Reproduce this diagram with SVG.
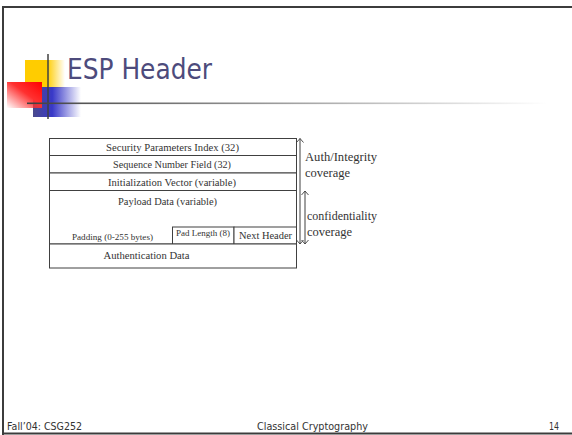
<svg xmlns="http://www.w3.org/2000/svg" width="572" height="435" viewBox="0 0 572 435">
  <style>
    .cell { fill: #ffffff; stroke: #404040; stroke-width: 1; }
    .ft { font-family: "Liberation Serif", "Times New Roman", serif; fill: #333333; }
    .lbl { font-family: "Liberation Serif", "Times New Roman", serif; fill: #333333; font-size: 12.5px; }
    .foot { font-family: "DejaVu Sans", Verdana, sans-serif; font-size: 10px; fill: #333333; }
    .arr { stroke: #404040; stroke-width: 1; fill: none; }
  </style>
  <defs>
    <linearGradient id="gYellow" x1="0" y1="0" x2="1" y2="0">
      <stop offset="0" stop-color="#ffcc00"/>
      <stop offset="0.55" stop-color="#ffcc00"/>
      <stop offset="1" stop-color="#ffcc00" stop-opacity="0"/>
    </linearGradient>
    <linearGradient id="gRed" x1="1" y1="0" x2="0" y2="1">
      <stop offset="0" stop-color="#ff0000"/>
      <stop offset="0.45" stop-color="#ff3030"/>
      <stop offset="1" stop-color="#ff3030" stop-opacity="0"/>
    </linearGradient>
    <linearGradient id="gBlue" x1="0" y1="0" x2="1" y2="0">
      <stop offset="0" stop-color="#4a4a8c"/>
      <stop offset="0.4" stop-color="#3838c8"/>
      <stop offset="1" stop-color="#3838c8" stop-opacity="0"/>
    </linearGradient>
    <linearGradient id="gRule" x1="0" y1="0" x2="1" y2="0">
      <stop offset="0" stop-color="#404040"/>
      <stop offset="0.5" stop-color="#a0a0a0"/>
      <stop offset="1" stop-color="#ffffff"/>
    </linearGradient>
    <!-- open V arrowhead, drawn pointing along +x -->
    <marker id="head" viewBox="0 0 8 8" refX="7" refY="4" markerWidth="8" markerHeight="8" orient="auto-start-reverse" markerUnits="userSpaceOnUse">
      <path d="M3,0.5 L7,4 L3,7.5" fill="none" stroke="#404040" stroke-width="0.9"/>
    </marker>
  </defs>

  <!-- slide frame -->
  <rect x="0" y="0" width="572" height="435" fill="#ffffff"/>
  <line x1="3" y1="7" x2="572" y2="7" stroke="#3c3c3c" stroke-width="2"/>
  <line x1="3" y1="6" x2="3" y2="435" stroke="#3c3c3c" stroke-width="2"/>
  <line x1="2" y1="433.5" x2="572" y2="433.5" stroke="#3c3c3c" stroke-width="2"/>

  <!-- title ornament -->
  <g id="ornament">
    <rect x="25" y="60" width="40" height="28" fill="url(#gYellow)"/>
    <rect x="33" y="87" width="48" height="30" fill="url(#gBlue)"/>
    <rect x="7" y="82" width="35" height="26" fill="url(#gRed)"/>
    <line x1="48" y1="54" x2="48" y2="119" stroke="#404040" stroke-width="1.5"/>
    <rect x="27" y="102.5" width="520" height="1.6" fill="url(#gRule)"/>
  </g>

  <g id="title">
    <text x="67" y="78.5" font-family="'DejaVu Sans', Verdana, sans-serif" font-size="28" fill="#4d4b7c" textLength="145" lengthAdjust="spacingAndGlyphs">ESP Header</text>
  </g>

  <!-- packet layout -->
  <g id="spi">
    <rect class="cell" x="49.5" y="138.5" width="247" height="17"/>
    <text class="ft" x="172.5" y="150.5" font-size="10.5" text-anchor="middle" textLength="133" lengthAdjust="spacingAndGlyphs">Security Parameters Index (32)</text>
  </g>
  <g id="seq">
    <rect class="cell" x="49.5" y="155.5" width="247" height="17.5"/>
    <text class="ft" x="172" y="168" font-size="10.5" text-anchor="middle" textLength="118" lengthAdjust="spacingAndGlyphs">Sequence Number Field (32)</text>
  </g>
  <g id="iv">
    <rect class="cell" x="49.5" y="173" width="247" height="17.5"/>
    <text class="ft" x="172" y="185.5" font-size="10.5" text-anchor="middle" textLength="128" lengthAdjust="spacingAndGlyphs">Initialization Vector (variable)</text>
  </g>
  <g id="payload">
    <rect class="cell" x="49.5" y="190.5" width="247" height="53.5"/>
    <text class="ft" x="167.5" y="205" font-size="10.5" text-anchor="middle" textLength="99" lengthAdjust="spacingAndGlyphs">Payload Data (variable)</text>
    <text class="ft" x="112.5" y="239.5" font-size="8.5" text-anchor="middle" textLength="81" lengthAdjust="spacingAndGlyphs">Padding (0-255 bytes)</text>
  </g>
  <g id="padlen">
    <rect class="cell" x="172.5" y="227" width="61.5" height="17"/>
    <text class="ft" x="203" y="236" font-size="8.5" text-anchor="middle" textLength="54" lengthAdjust="spacingAndGlyphs">Pad Length (8)</text>
  </g>
  <g id="nexthdr">
    <rect class="cell" x="234" y="227" width="62.5" height="17"/>
    <text class="ft" x="265.5" y="239" font-size="10" text-anchor="middle" textLength="53" lengthAdjust="spacingAndGlyphs">Next Header</text>
  </g>
  <g id="auth">
    <rect class="cell" x="49.5" y="244" width="247" height="24"/>
    <text class="ft" x="146.5" y="259" font-size="10.5" text-anchor="middle" textLength="86" lengthAdjust="spacingAndGlyphs">Authentication Data</text>
  </g>

  <!-- coverage arrows -->
  <g id="connectors">
    <line class="arr" x1="300" y1="138.5" x2="300" y2="244" marker-start="url(#head)" marker-end="url(#head)"/>
    <line class="arr" x1="305" y1="191" x2="305" y2="244" marker-start="url(#head)" marker-end="url(#head)"/>
  </g>

  <g id="labels">
    <text class="lbl" x="305" y="161" textLength="72" lengthAdjust="spacingAndGlyphs">Auth/Integrity</text>
    <text class="lbl" x="305" y="176.5">coverage</text>
    <text class="lbl" x="307" y="219.5" textLength="70" lengthAdjust="spacingAndGlyphs">confidentiality</text>
    <text class="lbl" x="307" y="235.5">coverage</text>
  </g>

  <!-- footer -->
  <g id="footer">
    <text class="foot" x="7" y="429.5" textLength="75" lengthAdjust="spacingAndGlyphs">Fall’04: CSG252</text>
    <text class="foot" x="257" y="429.5" textLength="111" lengthAdjust="spacingAndGlyphs">Classical Cryptography</text>
    <text class="foot" x="549" y="429.5" textLength="10" lengthAdjust="spacingAndGlyphs">14</text>
  </g>
</svg>
